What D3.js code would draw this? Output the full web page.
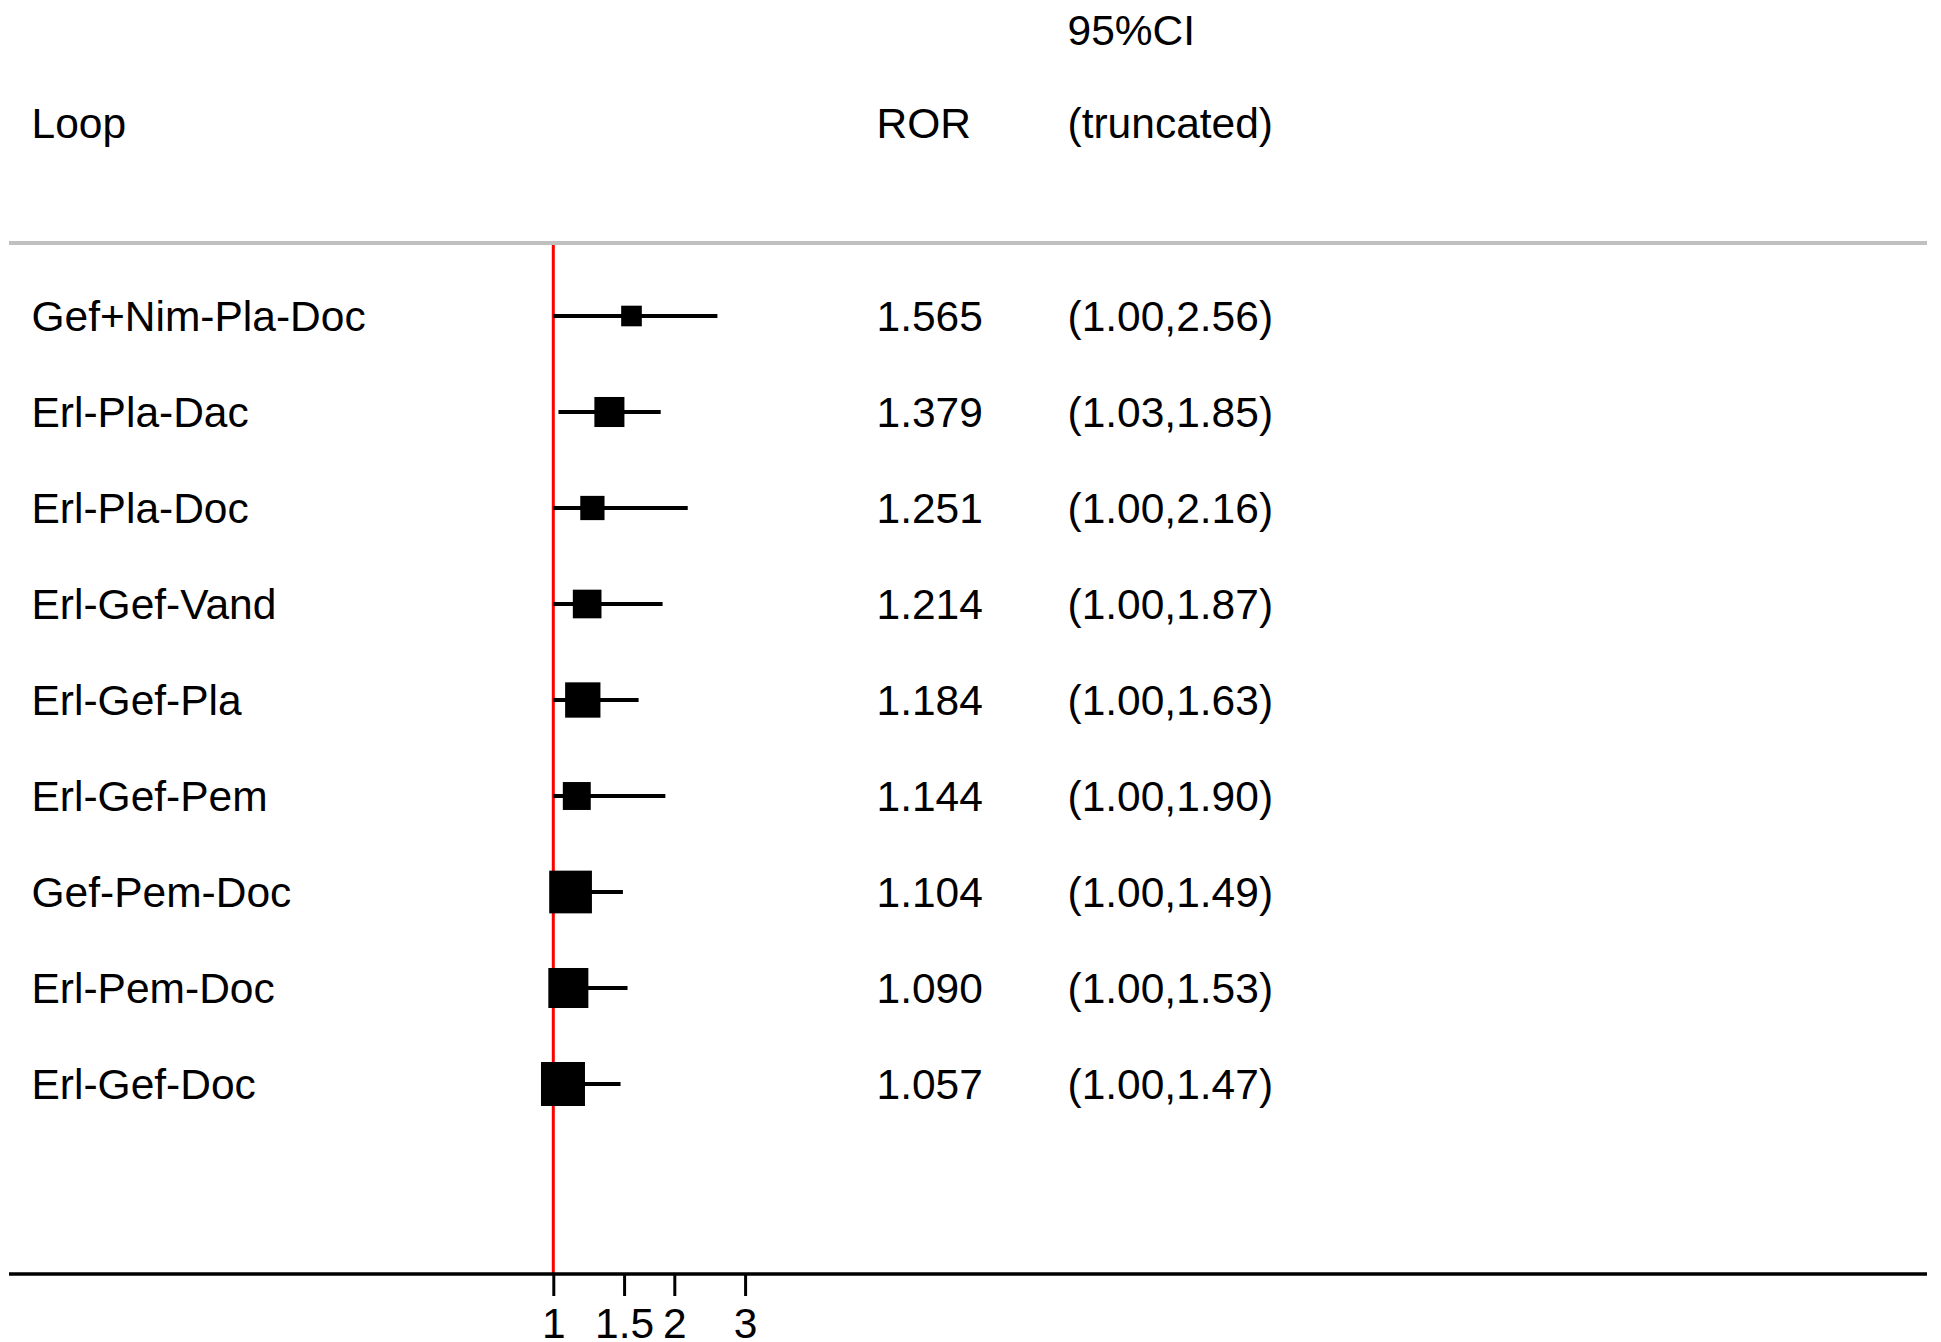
<!DOCTYPE html>
<html>
<head>
<meta charset="utf-8">
<script src="https://cdn.jsdelivr.net/npm/d3@7"></script>
<style>
  html, body { margin: 0; padding: 0; background: #fff; }
  svg { display: block; }
  text { font-family: "Liberation Sans", Arial, sans-serif; fill: #000; }
</style>
</head>
<body>
<script>
// ---- data ----
const loops = ["Gef+Nim-Pla-Doc", "Erl-Pla-Dac", "Erl-Pla-Doc", "Erl-Gef-Vand", "Erl-Gef-Pla",
               "Erl-Gef-Pem", "Gef-Pem-Doc", "Erl-Pem-Doc", "Erl-Gef-Doc"];
const ror = [1.565, 1.379, 1.251, 1.214, 1.184, 1.144, 1.104, 1.090, 1.057];
const ciLower = [1.00, 1.03, 1.00, 1.00, 1.00, 1.00, 1.00, 1.00, 1.00];
const ciUpper = [2.56, 1.85, 2.16, 1.87, 1.63, 1.90, 1.49, 1.53, 1.47];
const weights = [4.2, 8.9, 5.8, 8.1, 12.3, 7.7, 18.0, 15.8, 19.1];
const tickValues = [1, 1.5, 2, 3];
const tickLabels = ["1", "1.5", "2", "3"];
const headers = { loop: "Loop", ror: "ROR", ci1: "95%CI", ci2: "(truncated)" };

const W = 1941, H = 1342;
const FS = 42.5;

const svg = d3.select("body").append("svg").attr("width", W).attr("height", H);

const x = d3.scaleLog().domain([1, 3]).range([553.3, 745.1]);
const y = d3.scalePoint().domain(loops).range([316, 1084]);
const side = d3.scaleSqrt().domain([0, d3.max(weights)]).range([0, 44]);

const rows = loops.map((l, i) => ({ loop: l, ror: ror[i], lo: ciLower[i], hi: ciUpper[i], w: weights[i] }));

const colLabel = 31.5, colRor = 876.5, colCi = 1067.5;
const topLineY = 243, axisY = 1274;

// header
svg.append("text").attr("x", colLabel).attr("y", 138).attr("font-size", FS).text(headers.loop);
svg.append("text").attr("x", colRor).attr("y", 138).attr("font-size", FS).text(headers.ror);
svg.append("text").attr("x", colCi).attr("y", 45).attr("font-size", FS).text(headers.ci1);
svg.append("text").attr("x", colCi).attr("y", 138).attr("font-size", FS).text(headers.ci2);

// gray separator
svg.append("line").attr("x1", 9).attr("x2", 1927).attr("y1", topLineY).attr("y2", topLineY)
  .attr("stroke", "#c0c0c0").attr("stroke-width", 4);

// null line
svg.append("line").attr("x1", x(1)).attr("x2", x(1)).attr("y1", topLineY + 2).attr("y2", axisY)
  .attr("stroke", "#ff0000").attr("stroke-width", 3);

// whiskers
svg.append("g").selectAll("line").data(rows).join("line")
  .attr("x1", d => x(d.lo)).attr("x2", d => x(d.hi))
  .attr("y1", d => y(d.loop)).attr("y2", d => y(d.loop))
  .attr("stroke", "#000").attr("stroke-width", 4);

// boxes
svg.append("g").selectAll("rect").data(rows).join("rect")
  .attr("x", d => x(d.ror) - side(d.w) / 2)
  .attr("y", d => y(d.loop) - side(d.w) / 2)
  .attr("width", d => side(d.w)).attr("height", d => side(d.w))
  .attr("fill", "#000");

// text columns
const fmt3 = d3.format(".3f"), fmt2 = d3.format(".2f");
const tg = svg.append("g").attr("font-size", FS);
tg.selectAll("text.lab").data(rows).join("text").attr("class", "lab")
  .attr("x", colLabel).attr("y", d => y(d.loop)).attr("dy", "0.35em").text(d => d.loop);
tg.selectAll("text.ror").data(rows).join("text").attr("class", "ror")
  .attr("x", colRor).attr("y", d => y(d.loop)).attr("dy", "0.35em").text(d => fmt3(d.ror));
tg.selectAll("text.ci").data(rows).join("text").attr("class", "ci")
  .attr("x", colCi).attr("y", d => y(d.loop)).attr("dy", "0.35em")
  .text(d => "(" + fmt2(d.lo) + "," + fmt2(d.hi) + ")");

// axis
svg.append("line").attr("x1", 9).attr("x2", 1927).attr("y1", axisY).attr("y2", axisY)
  .attr("stroke", "#000").attr("stroke-width", 3.5);
const axis = d3.axisBottom(x).tickValues(tickValues)
  .tickFormat((d, i) => tickLabels[i]).tickSize(22).tickPadding(12);
const ag = svg.append("g").attr("transform", `translate(0,${axisY})`).call(axis);
ag.select(".domain").remove();
ag.selectAll(".tick line").attr("stroke", "#000").attr("stroke-width", 3);
ag.selectAll(".tick text").attr("font-size", FS)
  .attr("font-family", "'Liberation Sans', Arial, sans-serif").attr("fill", "#000");
</script>
</body>
</html>
